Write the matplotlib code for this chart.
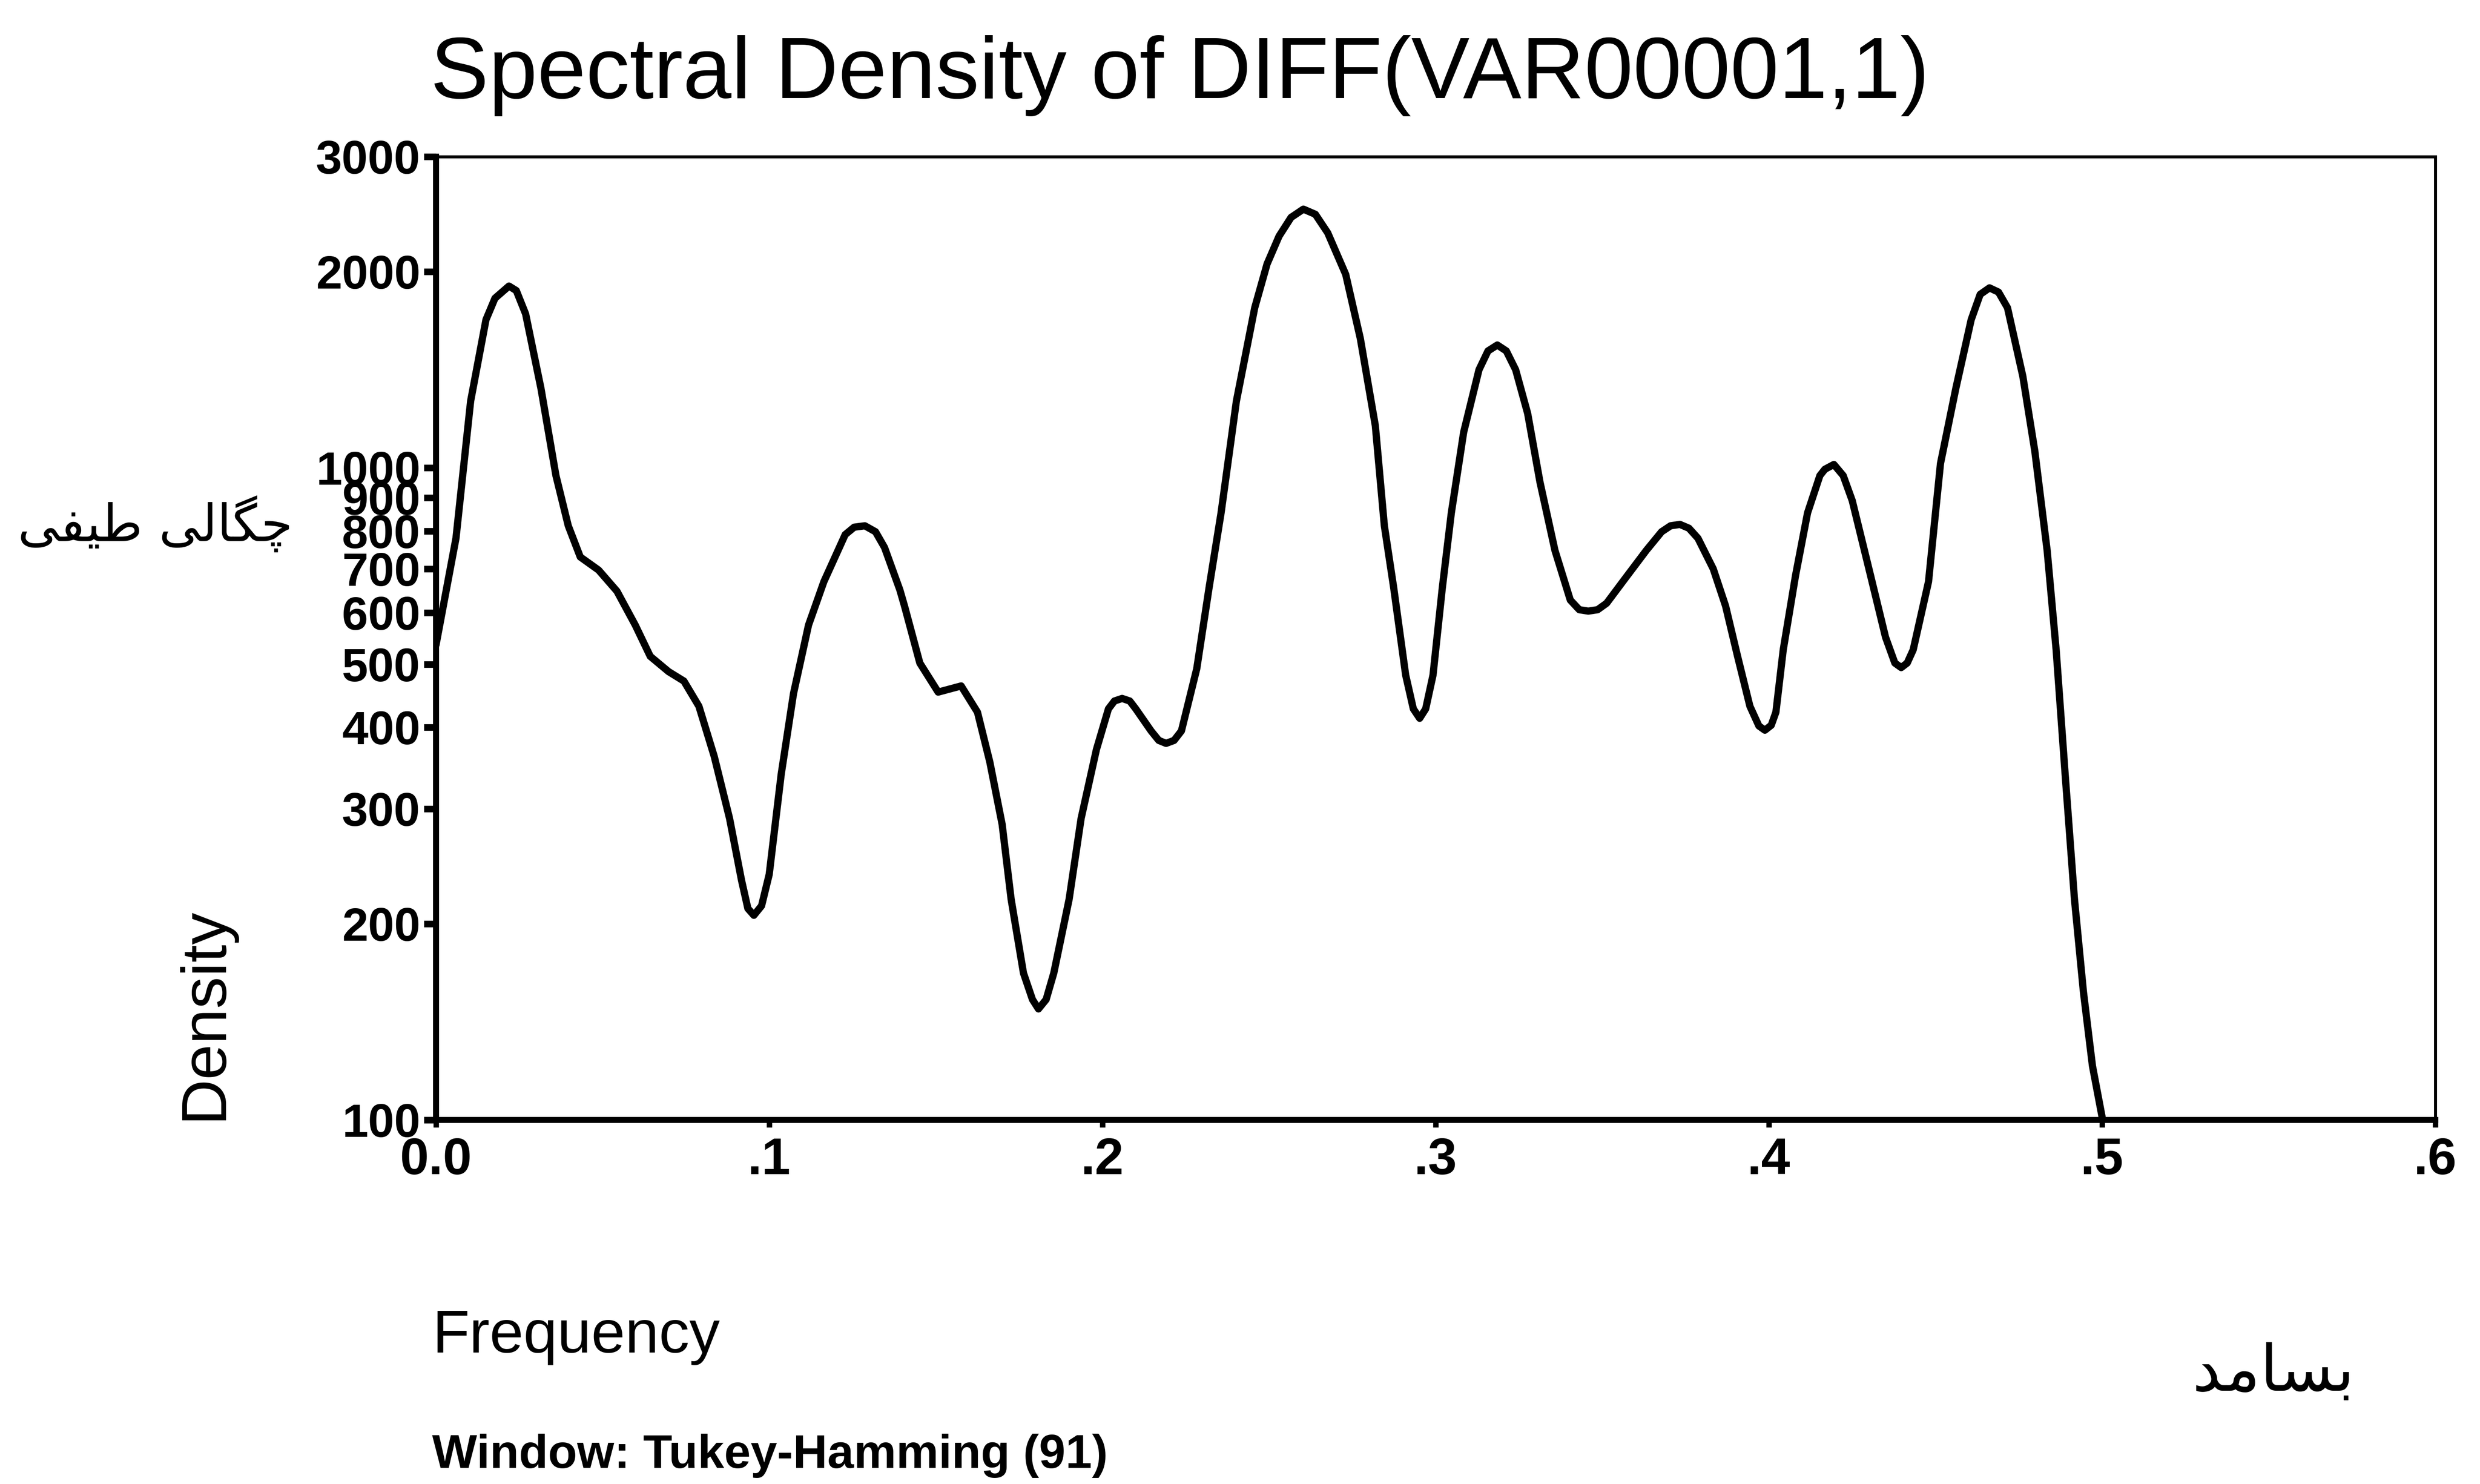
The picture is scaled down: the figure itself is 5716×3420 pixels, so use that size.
import matplotlib
matplotlib.use("Agg")
import matplotlib.pyplot as plt
from matplotlib.ticker import FixedLocator, NullLocator

plt.rcParams['font.family'] = ['Liberation Sans', 'DejaVu Sans']

# values
freq = [0.000, 0.006, 0.0104, 0.015, 0.0177, 0.0219, 0.0241, 0.0269, 0.0315, 0.036,
        0.0397, 0.0433, 0.0488, 0.0543, 0.0598, 0.0643, 0.0698, 0.0744, 0.0789, 0.0835,
        0.0881, 0.0917, 0.0936, 0.0954, 0.0977, 0.1000, 0.1036, 0.1073, 0.1118, 0.1164,
        0.1228, 0.1255, 0.1287, 0.1319, 0.1346, 0.1392, 0.1406, 0.1452, 0.1507, 0.1576,
        0.1625, 0.1662, 0.1699, 0.1726, 0.1763, 0.1790, 0.1808, 0.1831, 0.1854, 0.1900,
        0.1936, 0.1982, 0.2018, 0.2036, 0.2059, 0.2082, 0.2100, 0.2146, 0.2169, 0.2191,
        0.2215, 0.2237, 0.2283, 0.2320, 0.2356, 0.2402, 0.2457, 0.2494, 0.2530, 0.2566,
        0.2603, 0.2639, 0.2676, 0.2730, 0.2774, 0.2819, 0.2846, 0.2874, 0.2910, 0.2933,
        0.2952, 0.2970, 0.2992, 0.3020, 0.3047, 0.3084, 0.3130, 0.3157, 0.3185, 0.3212,
        0.3240, 0.3276, 0.3313, 0.3358, 0.3404, 0.3431, 0.3458, 0.3486, 0.3513, 0.3568,
        0.3632, 0.3678, 0.3705, 0.3733, 0.3760, 0.3787, 0.3833, 0.3870, 0.3906, 0.3943,
        0.3970, 0.3988, 0.4007, 0.4021, 0.4043, 0.4080, 0.4116, 0.4153, 0.4168, 0.4195,
        0.4223, 0.4250, 0.4305, 0.4350, 0.4378, 0.4397, 0.4415, 0.4433, 0.4479, 0.4515,
        0.4561, 0.4607, 0.4634, 0.4662, 0.4689, 0.4716, 0.4762, 0.4798, 0.4835, 0.4862,
        0.4889, 0.4917, 0.4944, 0.4971, 0.5000]
density = [535, 780, 1266, 1687, 1820, 1900, 1870, 1722, 1324, 973,
           815, 730, 697, 647, 574, 514, 487, 471, 431, 361,
           290, 233, 211, 206, 213, 238, 339, 451, 574, 669,
           790, 811, 815, 798, 755, 650, 614, 502, 453, 463,
           422, 354, 284, 218, 168, 153, 148, 153, 168, 218,
           290, 370, 427, 439, 443, 439, 427, 395, 382, 378,
           382, 395, 492, 655, 853, 1266, 1760, 2054, 2266, 2421,
           2493, 2448, 2293, 1980, 1578, 1160, 815, 655, 481, 427,
           413, 427, 481, 655, 853, 1134, 1414, 1511, 1543, 1511,
           1414, 1212, 951, 747, 627, 606, 603, 606, 620, 676,
           747, 798, 815, 819, 808, 780, 700, 614, 514, 431,
           402, 396, 403, 422, 526, 684, 853, 973, 995, 1012,
           973, 891, 684, 550, 502, 494, 502, 526, 669, 1016,
           1324, 1687, 1845, 1888, 1860, 1760, 1382, 1061, 747, 526,
           339, 218, 157, 121, 101]

x_ticks = [0.0, 0.1, 0.2, 0.3, 0.4, 0.5, 0.6]
x_tick_labels = ['0.0', '.1', '.2', '.3', '.4', '.5', '.6']
y_ticks = [100, 200, 300, 400, 500, 600, 700, 800, 900, 1000, 2000, 3000]
y_tick_labels = [str(v) for v in y_ticks]

title = 'Spectral Density of DIFF(VAR00001,1)'
x_label = 'Frequency'
y_label = 'Density'
window_note = 'Window: Tukey-Hamming (91)'
# Persian labels, written as shaped presentation forms in visual order
fa_y_label = '\uFEF0\uFED4\uFEF4\uFEC3 \uFEF0\uFEDF\uFE8E\uFB95\uFB7C'   # چگالی طیفی
fa_x_label = '\uFEAA\uFEE3\uFE8E\uFEB4\uFE91'                          # بسامد

fig = plt.figure(figsize=(57.16, 34.2), dpi=100, facecolor='white')
ax = fig.add_axes([0.1758, 0.2453, 0.8062, 0.6491])

ax.plot(freq, density, color='black', lw=12, solid_joinstyle='round', solid_capstyle='round')

ax.set_yscale('log')
ax.set_xlim(0, 0.6)
ax.set_ylim(100, 3000)

ax.yaxis.set_major_locator(FixedLocator(y_ticks))
ax.yaxis.set_minor_locator(NullLocator())
ax.set_yticklabels(y_tick_labels, fontsize=78, fontweight='bold')
ax.xaxis.set_major_locator(FixedLocator(x_ticks))
ax.set_xticklabels(x_tick_labels, fontsize=86, fontweight='bold')

ax.tick_params(axis='y', direction='out', length=20, width=11, pad=6)
ax.tick_params(axis='x', direction='out', length=12, width=9, pad=16)

for side in ['left', 'bottom']:
    ax.spines[side].set_linewidth(10)
for side in ['top', 'right']:
    ax.spines[side].set_linewidth(5)

fig.text(0.1735, 0.934, title, fontsize=145, ha='left', va='baseline')
fig.text(0.1743, 0.0886, x_label, fontsize=101, ha='left', va='baseline')
fig.text(0.1743, 0.0108, window_note, fontsize=79, fontweight='bold', ha='left', va='baseline')
fig.text(0.0825, 0.2453, y_label, fontsize=106, rotation=90, ha='center', va='bottom')
fig.text(0.0626, 0.647, fa_y_label, fontsize=85, family=['DejaVu Sans'],
         ha='center', va='center')
fig.text(0.9167, 0.0746, fa_x_label, fontsize=106, family=['DejaVu Sans'],
         ha='center', va='center')

fig.savefig('out.png', dpi=100, facecolor='white')
